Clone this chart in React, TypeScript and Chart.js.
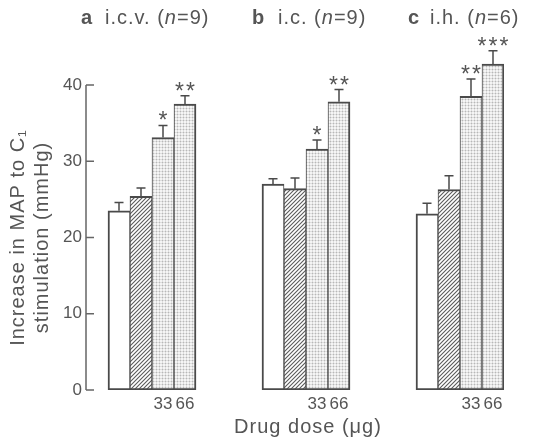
import React, { useEffect, useRef } from "react";
import { Chart, registerables } from "chart.js";

Chart.register(...registerables);

// ---- Data ----
const panelNames = ["i.c.v.", "i.c.", "i.h."];
const panelLetters = ["a", "b", "c"];
const panelN = [9, 9, 6];
const doseLabels = ["", "", "33", "66"];
const icvMean = [23.5, 25.4, 33.1, 37.5];
const icvSem = [1.1, 1.1, 1.6, 1.1];
const icMean = [27.0, 26.4, 31.6, 37.8];
const icSem = [0.7, 1.4, 1.2, 1.6];
const ihMean = [23.1, 26.3, 38.5, 42.75];
const ihSem = [1.4, 1.8, 2.3, 1.75];
const icvStars = ["", "", "*", "**"];
const icStars = ["", "", "*", "**"];
const ihStars = ["", "", "**", "***"];
const yTicks = [0, 10, 20, 30, 40];

const panelMeans = [icvMean, icMean, ihMean];
const panelSems = [icvSem, icSem, ihSem];
const panelStars = [icvStars, icStars, ihStars];
const panelStartSlot = [1, 8, 15];
const slotCount = 19;

const TEXT = "#555";
const LINE = "#4a4a4a";
const FONT = "'Liberation Sans', Arial, sans-serif";

function makeHatch(): CanvasPattern | string {
  const c = document.createElement("canvas");
  const s = 4;
  c.width = s;
  c.height = s;
  const g = c.getContext("2d");
  if (!g) return "#ccc";
  g.fillStyle = "#fff";
  g.fillRect(0, 0, s, s);
  g.strokeStyle = "#5a5a5a";
  g.lineWidth = 1.1;
  g.beginPath();
  g.moveTo(-1, s + 1);
  g.lineTo(s + 1, -1);
  g.moveTo(-1, 1);
  g.lineTo(1, -1);
  g.moveTo(s - 1, s + 1);
  g.lineTo(s + 1, s - 1);
  g.stroke();
  return g.createPattern(c, "repeat") || "#ccc";
}

function makeStipple(): CanvasPattern | string {
  const c = document.createElement("canvas");
  c.width = 3;
  c.height = 3;
  const g = c.getContext("2d");
  if (!g) return "#eee";
  g.fillStyle = "#f5f5f5";
  g.fillRect(0, 0, 3, 3);
  g.fillStyle = "#dedede";
  g.fillRect(0, 0, 3, 1);
  g.fillRect(0, 0, 1, 3);
  g.fillStyle = "#b8b8b8";
  g.fillRect(0, 0, 1, 1);
  return g.createPattern(c, "repeat") || "#eee";
}

export default function App() {
  const ref = useRef<HTMLCanvasElement | null>(null);

  useEffect(() => {
    if (!ref.current) return;
    const hatch = makeHatch();
    const stipple = makeStipple();
    const fills = ["#ffffff", hatch, stipple, stipple];

    const labels: string[] = [];
    const values: (number | null)[] = [];
    const bgs: any[] = [];
    const sems: (number | null)[] = [];
    const stars: string[] = [];
    const pos: number[] = [];
    for (let i = 0; i < slotCount; i++) {
      labels.push("");
      values.push(null);
      bgs.push("#fff");
      sems.push(null);
      stars.push("");
      pos.push(-1);
    }
    panelStartSlot.forEach((st, p) => {
      for (let k = 0; k < 4; k++) {
        labels[st + k] = doseLabels[k];
        values[st + k] = panelMeans[p][k];
        bgs[st + k] = fills[k];
        sems[st + k] = panelSems[p][k];
        stars[st + k] = panelStars[p][k];
        pos[st + k] = k;
      }
    });

    const overlay = {
      id: "overlay",
      afterDatasetsDraw(chart: any) {
        const ctx = chart.ctx as any;
        const ys = chart.scales.y;
        const meta = chart.getDatasetMeta(0);
        ctx.save();
        // error bars and stars
        ctx.strokeStyle = LINE;
        ctx.lineWidth = 1.5;
        values.forEach((v, i) => {
          if (v == null) return;
          const el = meta.data[i];
          const x = el.x;
          const top = ys.getPixelForValue(v);
          const ey = ys.getPixelForValue(v + (sems[i] as number));
          ctx.beginPath();
          ctx.moveTo(x, top);
          ctx.lineTo(x, ey);
          ctx.moveTo(x - 4.5, ey);
          ctx.lineTo(x + 4.5, ey);
          ctx.stroke();
          const s = stars[i];
          if (s) {
            ctx.fillStyle = TEXT;
            ctx.font = `23px ${FONT}`;
            ctx.textAlign = "center";
            ctx.textBaseline = "alphabetic";
            const n = s.length;
            for (let j = 0; j < n; j++) {
              const sx = x + (j - (n - 1) / 2) * 11;
              ctx.fillText("*", sx, ey + 3);
            }
          }
        });
        // y axis line and inward ticks
        const ax = chart.chartArea.left;
        ctx.strokeStyle = "#666";
        ctx.lineWidth = 1.5;
        ctx.beginPath();
        ctx.moveTo(ax, ys.getPixelForValue(0));
        ctx.lineTo(ax, ys.getPixelForValue(40));
        yTicks.forEach((t) => {
          const py = ys.getPixelForValue(t);
          ctx.moveTo(ax, py);
          ctx.lineTo(ax + 8, py);
        });
        ctx.stroke();

        // panel titles
        ctx.fillStyle = TEXT;
        ctx.textBaseline = "alphabetic";
        ctx.textAlign = "left";
        ctx.letterSpacing = "1px";
        const letterX = [81, 252, 408];
        const textX = [105, 278, 430];
        const by = 24;
        panelNames.forEach((nm, p) => {
          ctx.font = `bold 20px ${FONT}`;
          ctx.fillText(panelLetters[p], letterX[p], by);
          let x = textX[p];
          ctx.font = `20px ${FONT}`;
          const t1 = `${nm} (`;
          ctx.fillText(t1, x, by);
          x += ctx.measureText(t1).width;
          ctx.font = `italic 20px ${FONT}`;
          ctx.fillText("n", x, by);
          x += ctx.measureText("n").width;
          ctx.font = `20px ${FONT}`;
          ctx.fillText(`=${panelN[p]})`, x, by);
        });

        // x title
        ctx.textAlign = "center";
        ctx.font = `20px ${FONT}`;
        ctx.fillText("Drug dose (\u03bcg)", 308, 433);

        // y title
        const cy = (ys.getPixelForValue(0) + ys.getPixelForValue(40)) / 2;
        ctx.translate(0, cy);
        ctx.rotate(-Math.PI / 2);
        ctx.font = `20px ${FONT}`;
        ctx.textBaseline = "middle";
        ctx.fillText("Increase in MAP to C\u2081", 0, 18);
        ctx.fillText("stimulation (mmHg)", 0, 42);
        ctx.restore();
      },
    };

    const chart = new Chart(ref.current, {
      type: "bar",
      data: {
        labels,
        datasets: [
          {
            data: values,
            backgroundColor: bgs,
            borderColor: LINE,
            borderSkipped: false,
            borderWidth: (c: any) => {
              const k = pos[c.dataIndex];
              return {
                top: 2,
                bottom: 2,
                left: k === 0 ? 2 : 1,
                right: k === 3 ? 2 : 1,
              };
            },
            barPercentage: 1,
            categoryPercentage: 1,
          } as any,
        ],
      },
      options: {
        responsive: false,
        animation: false,
        layout: { padding: { top: 39.25, right: 32, left: 0, bottom: 0 } },
        plugins: { legend: { display: false }, tooltip: { enabled: false }, title: { display: false } },
        scales: {
          x: {
            type: "category",
            grid: { display: false, drawTicks: false },
            border: { display: false },
            ticks: {
              autoSkip: false,
              maxRotation: 0,
              minRotation: 0,
              color: TEXT,
              font: { family: FONT, size: 17 },
              padding: 4,
            },
            afterFit: (s: any) => {
              s.height = 49;
            },
          },
          y: {
            min: 0,
            max: 46,
            grid: { display: false, drawTicks: false },
            border: { display: false },
            ticks: {
              color: TEXT,
              font: { family: FONT, size: 17 },
              padding: 4,
            },
            afterBuildTicks: (s: any) => {
              s.ticks = yTicks.map((v) => ({ value: v }));
            },
            afterFit: (s: any) => {
              s.width = 86;
            },
          },
        },
      },
      plugins: [overlay],
    } as any);
    return () => chart.destroy();
  }, []);

  return (
    <div style={{ position: "fixed", left: 0, top: 0, width: 536, height: 439, background: "#fff" }}>
      <canvas ref={ref} width={536} height={439} style={{ width: 536, height: 439 }} />
    </div>
  );
}
